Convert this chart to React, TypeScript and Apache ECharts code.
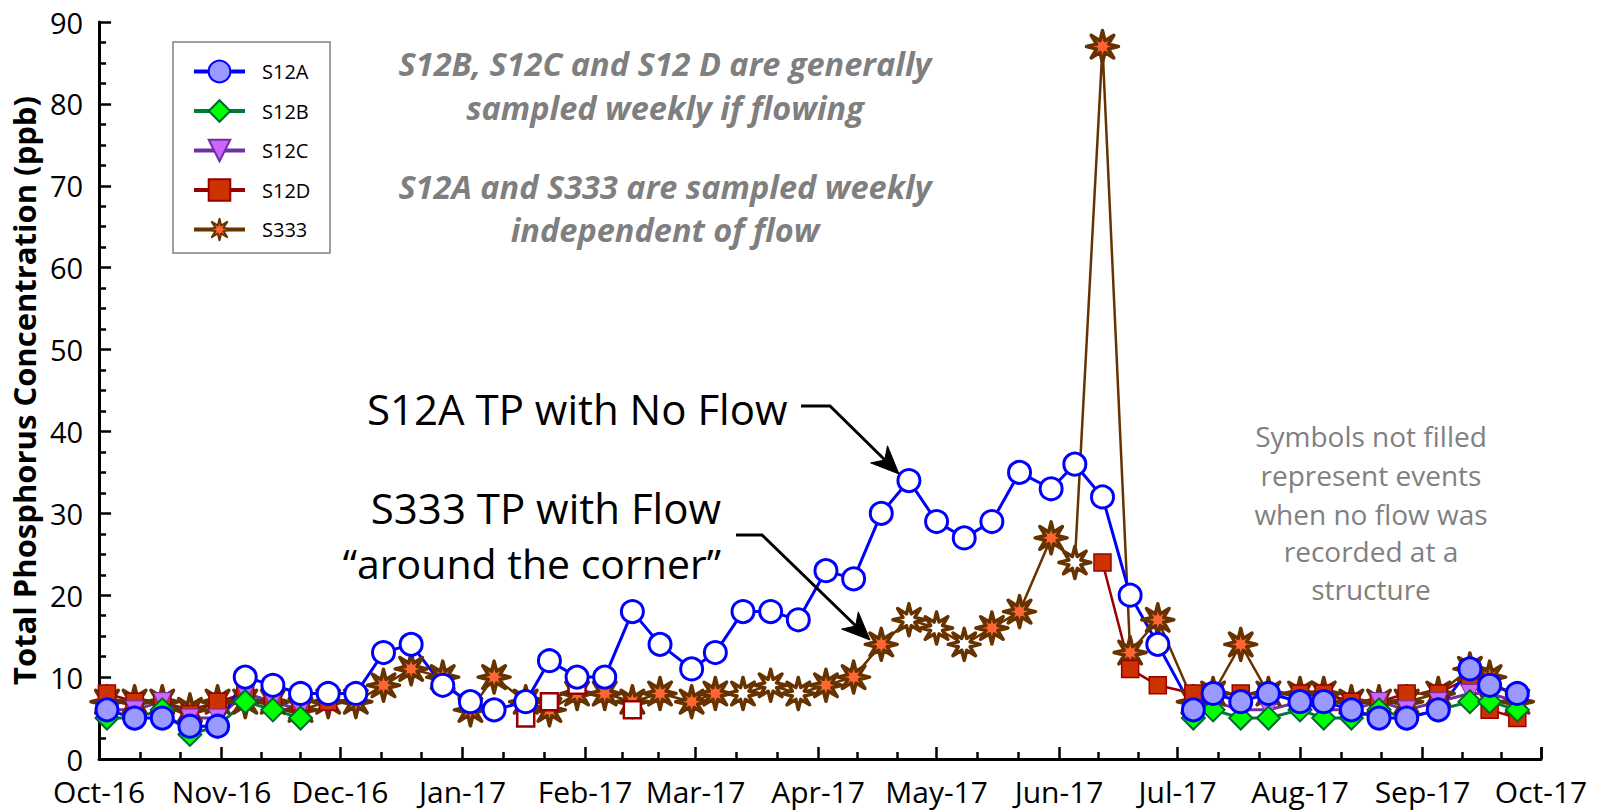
import React, { useEffect, useRef } from 'react';
import * as echarts from 'echarts';

// ---- data ----
const sampleDates = [
  '2016-10-03', '2016-10-10', '2016-10-17', '2016-10-24', '2016-10-31',
  '2016-11-07', '2016-11-14', '2016-11-21', '2016-11-28',
  '2016-12-05', '2016-12-12', '2016-12-19', '2016-12-27',
  '2017-01-03', '2017-01-09', '2017-01-17', '2017-01-23', '2017-01-30',
  '2017-02-06', '2017-02-13', '2017-02-20', '2017-02-28',
  '2017-03-06', '2017-03-13', '2017-03-20', '2017-03-27',
  '2017-04-03', '2017-04-10', '2017-04-17', '2017-04-24',
  '2017-05-01', '2017-05-08', '2017-05-15', '2017-05-22', '2017-05-30',
  '2017-06-05', '2017-06-12', '2017-06-19', '2017-06-26',
  '2017-07-05', '2017-07-10', '2017-07-17', '2017-07-24',
  '2017-08-01', '2017-08-07', '2017-08-14', '2017-08-21', '2017-08-28',
  '2017-09-05', '2017-09-13', '2017-09-18', '2017-09-25',
];

const s12a = [6, 5, 5, 4, 4, 10, 9, 8, 8, 8, 13, 14, 9, 7, 6, 7, 12, 10, 10, 18, 14, 11, 13, 18, 18, 17, 23, 22, 30, 34, 29, 27, 29, 35, 33, 36, 32, 20, 14, 6, 8, 7, 8, 7, 7, 6, 5, 5, 6, 11, 9, 8];

const s12b = [5, 5, 6, 3, 4, 7, 6, 5,
  null, null, null, null, null, null, null, null, null, null, null, null, null, null, null, null,
  null, null, null, null, null, null, null, null, null, null, null, null, null, null, null,
  5, 6, 5, 5, 6, 5, 5, 6, 5, 6, 7, 7, 6];

const s12c = [6, 6, 7, 5, 5, 8, 7, 6,
  null, null, null, null, null, null, null, null, null, null, null, null, null, null, null, null,
  null, null, null, null, null, null, null, null, null, null, null, null, null, null, null,
  6, 7, 6, 6, 7, 6, 6, 7, 6, 7, 8, 8, 7];

const s12d = [8, 7, 7, 5.5, 7, 8, 7, 7, 7,
  null, null, null, null, null, null,
  5, 7, 9, null, 6,
  null, null, null, null, null, null, null, null, null, null, null, null, null, null, null, null,
  24, 11, 9, 8, 8, 8, 8, 8, 8, 7, 7, 8, 8, 10, 6, 5];

const s333 = [7, 7, 7, 6, 7, 7, 7, 6, 7, 7, 9, 11, 10, 6, 10, 7, 6, 8, 8, 7, 8, 7, 8, 8, 9, 8, 9, 10, 14, 17, 16, 14, 16, 18, 27, 24, 87, 13, 17, 7, 8, 14, 8, 8, 8, 7, 7, 7, 8, 11, 10, 7];

// indices of samples taken when no flow was recorded (drawn unfilled)
const s12aNoFlow = [5, 6, 7, 8, 9, 10, 11, 12, 13, 14, 15, 16, 17, 18, 19, 20, 21, 22, 23, 24, 25, 26, 27, 28, 29, 30, 31, 32, 33, 34, 35, 36, 37, 38];
const s12dNoFlow = [15, 16, 17, 19];
const s333NoFlow = [23, 24, 25, 29, 30, 31, 35];

const seriesNames = ['S12A', 'S12B', 'S12C', 'S12D', 'S333'];
const monthNames = ['Jan', 'Feb', 'Mar', 'Apr', 'May', 'Jun', 'Jul', 'Aug', 'Sep', 'Oct', 'Nov', 'Dec'];

const axisTitle = 'Total Phosphorus Concentration (ppb)';
const noteTop = ['S12B, S12C and S12 D are generally', 'sampled weekly if flowing'];
const noteTop2 = ['S12A and S333 are sampled weekly', 'independent of flow'];
const noteRight = ['Symbols not filled', 'represent events', 'when no flow was', 'recorded at a', 'structure'];

// ---- helpers ----
function starPath(points: number, inner: number) {
  const pts: string[] = [];
  for (let i = 0; i < points * 2; i++) {
    const a = (Math.PI * i) / points - Math.PI / 2;
    const r = i % 2 === 0 ? 50 : 50 * inner;
    pts.push(`${(50 + r * Math.cos(a)).toFixed(2)} ${(50 + r * Math.sin(a)).toFixed(2)}`);
  }
  return 'path://M' + pts.join(' L') + ' Z';
}

function buildData(values: (number | null)[], noFlow: number[], hollowStyle: any) {
  return values.map((v, i) => {
    if (v == null) return [sampleDates[i], null];
    if (noFlow.includes(i)) return { value: [sampleDates[i], v], itemStyle: hollowStyle };
    return [sampleDates[i], v];
  });
}

function arrowHead(tip: [number, number], from: [number, number], len: number, half: number, notch: number) {
  const dx = tip[0] - from[0];
  const dy = tip[1] - from[1];
  const d = Math.hypot(dx, dy);
  const ux = dx / d, uy = dy / d;
  const px = -uy, py = ux;
  const bx = tip[0] - len * ux, by = tip[1] - len * uy;
  const nx = tip[0] - (len - notch) * ux, ny = tip[1] - (len - notch) * uy;
  return [tip, [bx + half * px, by + half * py], [nx, ny], [bx - half * px, by - half * py]];
}

const FONT = 'Open Sans';
const GREY = '#7f7f7f';

export default function App() {
  const ref = useRef<HTMLDivElement>(null);

  useEffect(() => {
    if (!ref.current) return;
    const chart = echarts.init(ref.current, null, { renderer: 'svg' });
    const star = starPath(8, 0.4);

    const arrow1From: [number, number] = [830, 406];
    const arrow1Tip: [number, number] = [899, 474];
    const arrow2From: [number, number] = [762, 535];
    const arrow2Tip: [number, number] = [870, 640];

    const option: any = {
      animation: false,
      backgroundColor: '#ffffff',
      grid: { left: 99, right: 57, top: 22, bottom: 53, containLabel: false },
      xAxis: {
        type: 'time',
        min: '2016-10-01',
        max: '2017-10-01',
        splitNumber: 12,
        minInterval: 28 * 86400000,
        maxInterval: 31 * 86400000,
        axisLine: { show: true, lineStyle: { color: '#000', width: 3 } },
        axisTick: { show: true, inside: true, length: 12, lineStyle: { color: '#000', width: 2.5 } },
        minorTick: { show: true, splitNumber: 3, length: 7, lineStyle: { color: '#000', width: 2.5 } },
        splitLine: { show: false },
        minorSplitLine: { show: false },
        axisLabel: {
          show: true,
          margin: 17,
          fontFamily: FONT,
          fontSize: 30,
          color: '#000',
          showMinLabel: true,
          showMaxLabel: true,
          formatter: (val: number) => {
            const d = new Date(val);
            return `${monthNames[d.getMonth()]}-${String(d.getFullYear()).slice(-2)}`;
          },
        },
      },
      yAxis: {
        type: 'value',
        min: 0,
        max: 90,
        interval: 10,
        name: axisTitle,
        nameLocation: 'middle',
        nameRotate: 90,
        nameGap: 60,
        nameTextStyle: { fontFamily: FONT, fontWeight: 'bold', fontSize: 31, color: '#000' },
        axisLine: { show: true, lineStyle: { color: '#000', width: 3 } },
        axisTick: { show: true, inside: true, length: 12, lineStyle: { color: '#000', width: 2.5 } },
        minorTick: { show: true, splitNumber: 4, length: 7, lineStyle: { color: '#000', width: 2.5 } },
        splitLine: { show: false },
        minorSplitLine: { show: false },
        axisLabel: { margin: 16, fontFamily: FONT, fontSize: 29, color: '#000' },
      },
      legend: {
        data: seriesNames,
        orient: 'vertical',
        left: 192,
        top: 58,
        padding: 0,
        itemWidth: 51,
        itemHeight: 27,
        itemGap: 12.5,
        z: 10,
        selectedMode: false,
        lineStyle: { width: 4 },
        textStyle: { fontFamily: FONT, fontSize: 20, color: '#000', lineHeight: 27, padding: [0, 0, 0, 12] },
      },
      graphic: [
        {
          type: 'rect', z: 1, silent: true,
          shape: { x: 173, y: 42, width: 157, height: 211 },
          style: { fill: '#fff', stroke: '#808080', lineWidth: 1.5 },
        },
        ...noteTop.map((t, i) => ({
          type: 'text', z: 20, x: 665, y: [63, 107][i],
          style: { text: t, fontFamily: FONT, fontWeight: 'bold', fontStyle: 'italic', fontSize: 32.5, fill: GREY, align: 'center', verticalAlign: 'middle' },
        })),
        ...noteTop2.map((t, i) => ({
          type: 'text', z: 20, x: 665, y: [186.5, 229][i],
          style: { text: t, fontFamily: FONT, fontWeight: 'bold', fontStyle: 'italic', fontSize: 32.5, fill: GREY, align: 'center', verticalAlign: 'middle' },
        })),
        ...noteRight.map((t, i) => ({
          type: 'text', z: 20, x: 1371, y: [436, 475, 514, 551, 589][i],
          style: { text: t, fontFamily: FONT, fontSize: 28, fill: '#808080', align: 'center', verticalAlign: 'middle' },
        })),
        {
          type: 'text', z: 20, x: 367, y: 408,
          style: { text: 'S12A TP with No Flow', fontFamily: FONT, fontSize: 42, fill: '#000', align: 'left', verticalAlign: 'middle' },
        },
        {
          type: 'text', z: 20, x: 721, y: 507,
          style: { text: 'S333 TP with Flow', fontFamily: FONT, fontSize: 42, fill: '#000', align: 'right', verticalAlign: 'middle' },
        },
        {
          type: 'text', z: 20, x: 721, y: 563,
          style: { text: '\u201Caround the corner\u201D', fontFamily: FONT, fontSize: 41, fill: '#000', align: 'right', verticalAlign: 'middle' },
        },
        {
          type: 'polyline', z: 20, silent: true,
          shape: { points: [[801, 406], arrow1From, [arrow1Tip[0] - 12, arrow1Tip[1] - 12]] },
          style: { stroke: '#000', lineWidth: 3, fill: null },
        },
        {
          type: 'polygon', z: 21, silent: true,
          shape: { points: arrowHead(arrow1Tip, arrow1From, 28, 12, 8) },
          style: { fill: '#000', stroke: '#000', lineWidth: 1 },
        },
        {
          type: 'polyline', z: 20, silent: true,
          shape: { points: [[736, 535], arrow2From, [arrow2Tip[0] - 12, arrow2Tip[1] - 12]] },
          style: { stroke: '#000', lineWidth: 3, fill: null },
        },
        {
          type: 'polygon', z: 21, silent: true,
          shape: { points: arrowHead(arrow2Tip, arrow2From, 28, 12, 8) },
          style: { fill: '#000', stroke: '#000', lineWidth: 1 },
        },
      ],
      series: [
        {
          name: 'S333', type: 'line', z: 2, silent: true,
          symbol: star, symbolSize: 32, showSymbol: true, showAllSymbol: true,
          lineStyle: { color: '#663300', width: 2.5 },
          itemStyle: { color: '#ff6633', borderColor: '#663300', borderWidth: 3.5, borderJoin: 'round' },
          data: buildData(s333, s333NoFlow, { color: '#ffffff' }),
        },
        {
          name: 'S12D', type: 'line', z: 2, silent: true,
          symbol: 'rect', symbolSize: 17, showSymbol: true, showAllSymbol: true,
          lineStyle: { color: '#990000', width: 2.5 },
          itemStyle: { color: '#cc3300', borderColor: '#990000', borderWidth: 1.5 },
          data: buildData(s12d, s12dNoFlow, { color: '#ffffff', borderWidth: 2.5 }),
        },
        {
          name: 'S12C', type: 'line', z: 2, silent: true,
          symbol: 'triangle', symbolRotate: 180, symbolSize: 18, showSymbol: true, showAllSymbol: true,
          lineStyle: { color: '#7030a0', width: 3 },
          itemStyle: { color: '#cc66ff', borderColor: '#7030a0', borderWidth: 1 },
          data: buildData(s12c, [], {}),
        },
        {
          name: 'S12B', type: 'line', z: 2, silent: true,
          symbol: 'diamond', symbolSize: 23, showSymbol: true, showAllSymbol: true,
          lineStyle: { color: '#007a37', width: 3 },
          itemStyle: { color: '#00ff00', borderColor: '#006633', borderWidth: 2 },
          data: buildData(s12b, [], {}),
        },
        {
          name: 'S12A', type: 'line', z: 2, silent: true,
          symbol: 'circle', symbolSize: 22, showSymbol: true, showAllSymbol: true,
          lineStyle: { color: '#0000ff', width: 3 },
          itemStyle: { color: '#9999ff', borderColor: '#0000ff', borderWidth: 3 },
          data: buildData(s12a, s12aNoFlow, { color: '#ffffff' }),
        },
      ],
    };

    chart.setOption(option);
    return () => chart.dispose();
  }, []);

  return (
    <div
      ref={ref}
      style={{ position: 'absolute', left: 0, top: 0, width: 1598, height: 812, background: '#fff' }}
    />
  );
}
